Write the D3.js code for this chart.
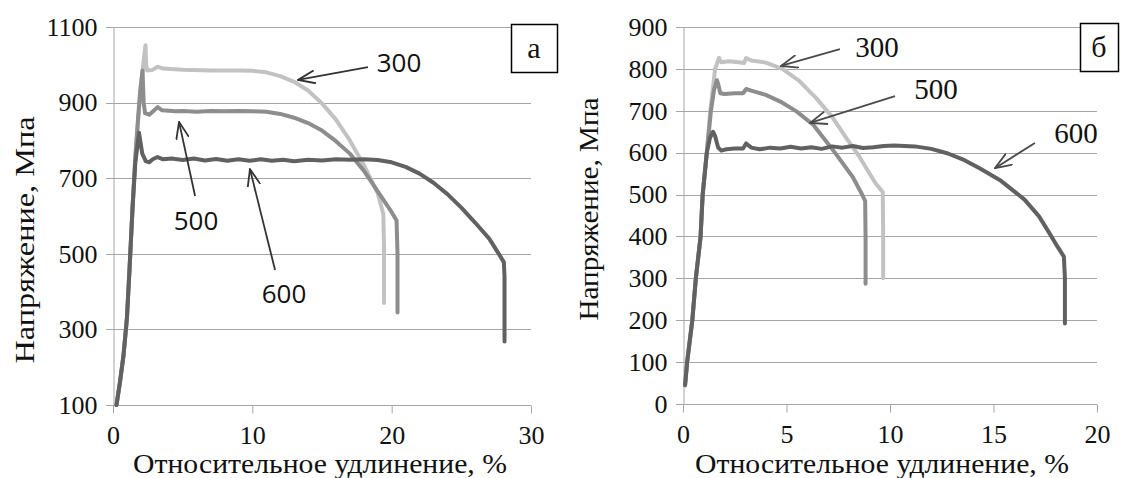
<!DOCTYPE html>
<html>
<head>
	<meta charset="utf-8">
	<script src="https://d3js.org/d3.v7.min.js"></script>
</head>
<body style="margin:0">
<script>
var SERIF = "Liberation Serif";
var SANS = "Open Sans";

// temperatures (series names)
var seriesNames = ["300", "500", "600"];

// panel "а": ticks
var xTicksA = [0, 10, 20, 30];
var yTicksA = [100, 300, 500, 700, 900, 1100];

// panel "а": stress-strain curves [elongation %, stress MPa]
var a300 = [[0.25,100],[0.5,160],[0.75,230],[1.0,330],[1.2,470],[1.4,620],[1.6,760],[1.8,850],[2.0,940],[2.2,1010],[2.33,1052],
	[2.38,1000],[2.45,985],[2.8,986],[3.2,995],[3.6,990],[5,987],[7,985],[9,985],[10,984],[11,980],[12,970],[13,955],
	[14,932],[15,898],[16,855],[17,800],[18,735],[19,660],[19.4,605],[19.45,520],[19.45,370]];
var a500 = [[0.25,100],[0.5,160],[0.75,230],[1.0,330],[1.2,470],[1.4,620],[1.6,750],[1.8,860],[1.95,930],[2.12,985],
	[2.2,900],[2.3,872],[2.6,868],[2.9,878],[3.2,888],[3.5,880],[4.5,877],[5,878],[6,876],[7,878],[8,877],[9,878],
	[10,877],[11,876],[12,870],[13,860],[14,846],[15,826],[16,798],[17,765],[18,720],[19,665],[20,610],[20.35,588],
	[20.42,500],[20.42,345]];
var a600 = [[0.25,100],[0.5,160],[0.75,230],[1.0,330],[1.2,470],[1.4,620],[1.6,740],[1.87,820],[1.95,800],[2.1,765],
	[2.35,745],[2.6,742],[2.85,750],[3.2,756],[3.6,750],[4.2,752],[5,748],[5.8,752],[6.6,747],[7.4,751],[8.2,746],
	[9,750],[9.8,746],[10.6,750],[11.4,746],[12.2,749],[13,745],[14,749],[15,747],[16,750],[17,749],[18,750],[19,748],
	[20,742],[21,730],[22,712],[23,688],[24,658],[25,622],[26,582],[27,540],[27.6,505],[28.05,478],[28.1,440],[28.1,268]];

// panel "б": ticks
var xTicksB = [0, 5, 10, 15, 20];
var yTicksB = [0, 100, 200, 300, 400, 500, 600, 700, 800, 900];

// panel "б": stress-strain curves
var b300 = [[0.1,45],[0.2,100],[0.45,200],[0.62,300],[0.85,400],[0.95,500],[1.15,600],[1.3,690],[1.55,800],[1.74,826],
	[1.85,816],[2.2,818],[2.7,816],[2.95,814],[3.05,826],[3.3,820],[4,815],[4.8,800],[5.6,772],[6.4,732],[7.2,686],
	[7.9,634],[8.5,592],[8.9,559],[9.3,527],[9.65,506],[9.67,400],[9.67,300]];
var b500 = [[0.1,45],[0.2,100],[0.45,200],[0.62,300],[0.85,400],[0.95,500],[1.15,600],[1.35,700],[1.5,750],[1.64,773],
	[1.72,760],[1.8,742],[2.0,740],[2.5,742],[2.9,742],[3.05,752],[3.3,748],[4,738],[4.7,722],[5.5,698],[6.3,666],
	[7.25,606],[8.2,542],[8.6,505],[8.8,485],[8.82,400],[8.82,287]];
var b600 = [[0.1,45],[0.2,100],[0.45,200],[0.62,300],[0.85,400],[0.95,500],[1.15,600],[1.3,635],[1.45,650],[1.55,640],
	[1.7,612],[1.85,605],[2.1,608],[2.5,610],[2.9,610],[3.05,622],[3.3,612],[3.7,608],[4.2,612],[4.7,610],[5.2,614],
	[5.7,610],[6.2,613],[6.7,609],[7.2,615],[7.7,612],[8.2,616],[8.7,611],[9.2,613],[9.7,616],[10.2,617],[10.7,616],
	[11.2,615],[12,609],[12.8,598],[13.6,582],[14.35,562],[15.3,535],[16.5,488],[17.2,448],[17.7,408],[18.1,375],
	[18.4,352],[18.45,300],[18.45,192]];

var colors = {"300": "#c2c2c2", "500": "#8d8d8d", "600": "#616161"};

var panels = [
	{
		letter: "а", xDomain: [0, 30], yDomain: [100, 1100], xRange: [113, 531], yRange: [405, 27],
		xTicks: xTicksA, yTicks: yTicksA, curves: [a300, a500, a600],
		box: [511, 24, 46, 48], yTitleX: 34, yTitleY: 240, yTitleLen: 247, xTitleX: 320,
		labelFont: SANS, labelSize: 26, arrowColor: "#333",
		notes: [
			{ text: [20.53, 1005], from: [18.3, 994], to: [13.28, 960] },
			{ text: [5.96, 587], from: [5.89, 653], to: [4.74, 849] },
			{ text: [12.27, 394], from: [11.63, 457], to: [9.83, 724] }
		]
	},
	{
		letter: "б", xDomain: [0, 20], yDomain: [0, 900], xRange: [683, 1097], yRange: [404, 27],
		xTicks: xTicksB, yTicks: yTicksB, curves: [b300, b500, b600],
		box: [1080, 23, 38, 48], yTitleX: 598, yTitleY: 209, yTitleLen: 223, xTitleX: 882,
		labelFont: SERIF, labelSize: 29, arrowColor: "#4a4a4a",
		notes: [
			{ text: [9.37, 852], from: [7.58, 847], to: [4.73, 807] },
			{ text: [12.22, 752], from: [10.24, 735], to: [6.14, 671] },
			{ text: [18.99, 647], from: [17.0, 623], to: [15.07, 563] }
		]
	}
];

var svg = d3.select("body").append("svg")
	.attr("width", 1121).attr("height", 478)
	.style("display", "block");

svg.append("defs").selectAll("marker")
	.data(panels).enter().append("marker")
	.attr("id", function(d, i) { return "arr" + i; })
	.attr("viewBox", "0 0 18 14")
	.attr("refX", 17).attr("refY", 7)
	.attr("markerWidth", 18).attr("markerHeight", 14)
	.attr("markerUnits", "userSpaceOnUse")
	.attr("orient", "auto")
	.append("path")
	.attr("d", "M0,0.5 L17,7 L0,13.5")
	.attr("fill", "none")
	.attr("stroke", function(d) { return d.arrowColor; })
	.attr("stroke-width", 1.8);

function label(sel, font, size) {
	return sel.style("font-family", font).style("font-size", size + "px").attr("fill", "#111");
}

panels.forEach(function(p, pi) {
	var x = d3.scaleLinear().domain(p.xDomain).range(p.xRange);
	var y = d3.scaleLinear().domain(p.yDomain).range(p.yRange);
	var g = svg.append("g");

	// horizontal grid
	g.append("g")
		.selectAll("line").data(p.yTicks).enter().append("line")
		.attr("x1", p.xRange[0] - 7).attr("x2", p.xRange[1])
		.attr("y1", function(d) { return Math.round(y(d)) + 0.5; })
		.attr("y2", function(d) { return Math.round(y(d)) + 0.5; })
		.attr("stroke", "#a6a6a6");

	// y axis
	var ya = g.append("g").attr("transform", "translate(" + (Math.round(p.xRange[0]) + 0.5) + ",0)")
		.call(d3.axisLeft(y).tickValues(p.yTicks).tickSize(0).tickPadding(16).tickFormat(d3.format("d")));
	ya.attr("font-family", SERIF).attr("font-size", 26);
	ya.select(".domain").attr("stroke", "#a6a6a6");
	label(ya.selectAll("text"), SERIF, 26);

	// x axis
	var xa = g.append("g").attr("transform", "translate(0," + (Math.round(p.yRange[0]) + 0.5) + ")")
		.call(d3.axisBottom(x).tickValues(p.xTicks).tickSize(8).tickPadding(12).tickFormat(d3.format("d")));
	xa.attr("font-family", SERIF).attr("font-size", 26);
	xa.select(".domain").attr("stroke", "#a6a6a6").attr("d", "M" + p.xRange[0] + ",0H" + p.xRange[1]);
	xa.selectAll(".tick line").attr("stroke", "#a6a6a6");
	label(xa.selectAll("text"), SERIF, 26);

	// curves
	var line = d3.line().x(function(d) { return x(d[0]); }).y(function(d) { return y(d[1]); });
	g.selectAll(".curve").data(p.curves).enter().append("path")
		.attr("class", "curve")
		.attr("d", line)
		.attr("fill", "none")
		.attr("stroke", function(d, i) { return colors[seriesNames[i]]; })
		.attr("stroke-width", 4)
		.attr("stroke-linejoin", "round")
		.attr("stroke-linecap", "round");

	// annotations
	g.selectAll(".arrow").data(p.notes).enter().append("line")
		.attr("x1", function(d) { return x(d.from[0]); })
		.attr("y1", function(d) { return y(d.from[1]); })
		.attr("x2", function(d) { return x(d.to[0]); })
		.attr("y2", function(d) { return y(d.to[1]); })
		.attr("stroke", p.arrowColor)
		.attr("stroke-width", 1.8)
		.attr("marker-end", "url(#arr" + pi + ")");
	label(g.selectAll(".note").data(p.notes).enter().append("text")
		.attr("x", function(d) { return x(d.text[0]); })
		.attr("y", function(d) { return y(d.text[1]); })
		.attr("dy", "0.35em")
		.attr("text-anchor", "middle")
		.text(function(d, i) { return seriesNames[i]; }), p.labelFont, p.labelSize);

	// panel letter box
	g.append("rect")
		.attr("x", p.box[0] + 0.5).attr("y", p.box[1] + 0.5)
		.attr("width", p.box[2]).attr("height", p.box[3])
		.attr("fill", "#fff").attr("stroke", "#000").attr("stroke-width", 1.5);
	label(g.append("text")
		.attr("x", p.box[0] + p.box[2] / 2).attr("y", p.box[1] + p.box[3] / 2)
		.attr("dy", "0.32em").attr("text-anchor", "middle")
		.text(p.letter), SERIF, 30);

	// axis titles
	label(g.append("text")
		.attr("x", p.xTitleX).attr("y", 473)
		.attr("text-anchor", "middle")
		.attr("textLength", 374).attr("lengthAdjust", "spacingAndGlyphs")
		.text("Относительное удлинение, %"), SERIF, 27);
	label(g.append("text")
		.attr("transform", "translate(" + p.yTitleX + "," + p.yTitleY + ") rotate(-90)")
		.attr("text-anchor", "middle")
		.attr("textLength", p.yTitleLen).attr("lengthAdjust", "spacingAndGlyphs")
		.text("Напряжение, Мпа"), SERIF, 28);
});
</script>
</body>
</html>
